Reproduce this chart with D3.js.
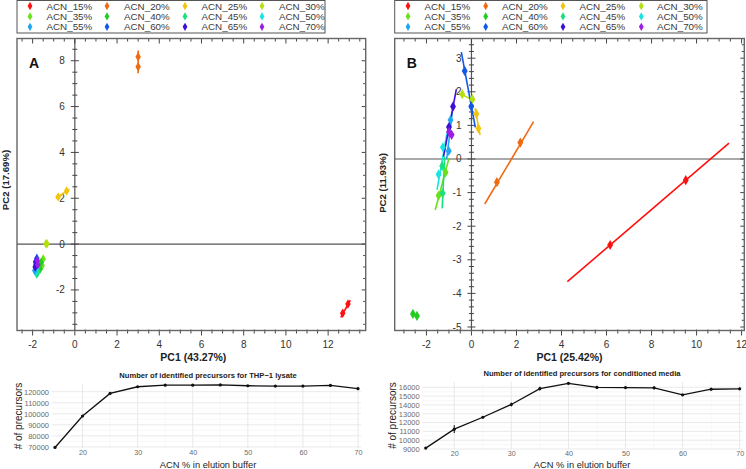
<!DOCTYPE html>
<html>
<head>
<meta charset="utf-8">
<script src="https://cdn.jsdelivr.net/npm/d3@7"></script>
<style>
  html, body { margin: 0; padding: 0; background: #fff; }
  svg { display: block; font-family: "Liberation Sans", Arial, sans-serif; }
</style>
</head>
<body>
<svg id="chart" width="746" height="469"></svg>
<script>
// ---- data ----
const groups = ["ACN_15%", "ACN_20%", "ACN_25%", "ACN_30%", "ACN_35%", "ACN_40%",
  "ACN_45%", "ACN_50%", "ACN_55%", "ACN_60%", "ACN_65%", "ACN_70%"];
const groupColors = ["#ff1010", "#f06a10", "#f2c40c", "#b4e010", "#6ae21a", "#22cc22",
  "#18e07e", "#18e4e0", "#22a6f2", "#1258e6", "#3c10d6", "#9a1ee6"];

// PCA A (THP-1 lysate): two replicate points per group + error line ends
const pcaAPoints = [
  [[12.69, -3.02], [12.94, -2.61]],
  [[3.0, 8.17], [3.0, 7.74]],
  [[-0.79, 2.06], [-0.39, 2.32]],
  [[-1.37, 0.01], [-1.32, 0.02]],
  [[-1.5, -0.65], [-1.55, -0.95]],
  [[-1.6, -0.8], [-1.65, -1.1]],
  [[-1.75, -1.2], [-1.8, -1.3]],
  [[-1.82, -1.05], [-1.86, -1.22]],
  [[-1.86, -0.9], [-1.9, -1.15]],
  [[-1.8, -0.62], [-1.85, -0.8]],
  [[-1.88, -1.0], [-1.85, -0.76]],
  [[-1.78, -0.72], [-1.76, -0.9]]
];
const pcaALines = [
  [[12.6, -3.2], [13.05, -2.45]],
  [[3.0, 8.45], [3.0, 7.45]],
  [[-0.9, 2.0], [-0.25, 2.4]],
  [[-1.42, 0.01], [-1.26, 0.02]],
  [[-1.45, -0.55], [-1.6, -1.05]],
  [[-1.55, -0.7], [-1.7, -1.2]],
  [[-1.72, -1.1], [-1.82, -1.38]],
  [[-1.78, -0.95], [-1.9, -1.3]],
  [[-1.82, -0.8], [-1.95, -1.22]],
  [[-1.78, -0.52], [-1.88, -0.88]],
  [[-1.82, -0.68], [-1.92, -1.08]],
  [[-1.73, -0.62], [-1.8, -0.98]]
];

// PCA B (conditioned media)
const pcaBPoints = [
  [[6.16, -2.56], [9.52, -0.63]],
  [[1.13, -0.69], [2.17, 0.49]],
  [[0.22, 1.34], [0.31, 0.91]],
  [[-0.41, 1.93], [0.04, 1.78]],
  [[-1.15, -0.4], [-1.46, -1.09]],
  [[-2.6, -4.61], [-2.42, -4.67]],
  [[-1.3, -0.21], [-1.28, -1.02]],
  [[-1.27, 0.35], [-1.46, -0.46]],
  [[-0.93, 1.16], [-1.01, 0.24]],
  [[-0.3, 2.62], [-0.01, 1.56]],
  [[-0.82, 1.56], [-1.0, 0.95]],
  [[-1.0, 0.8], [-0.88, 0.72]]
];
const pcaBLines = [
  [[4.26, -3.65], [11.44, 0.47]],
  [[0.59, -1.34], [2.76, 1.11]],
  [[0.16, 1.51], [0.38, 0.71]],
  [[-0.56, 1.96], [0.14, 1.73]],
  [[-1.0, 0.02], [-1.61, -1.52]],
  [[-2.65, -4.6], [-2.38, -4.68]],
  [[-1.19, 0.07], [-1.3, -1.47]],
  [[-1.09, 0.76], [-1.53, -0.92]],
  [[-0.85, 1.4], [-1.1, 0.0]],
  [[-0.45, 3.18], [0.17, 0.94]],
  [[-0.67, 2.08], [-1.24, 0.07]],
  [[-1.05, 0.9], [-0.84, 0.66]]
];

// precursor counts
const acnLevels = [15, 20, 25, 30, 35, 40, 45, 50, 55, 60, 65, 70];
const thpCounts = [69500, 98000, 118500, 124500, 125900, 125900, 126200, 125400, 125100, 125100, 125700, 122800];
const thpErrors = [600, 900, 700, 700, 500, 500, 500, 400, 400, 400, 600, 1100];
const mediaCounts = [9100, 11250, 12600, 14050, 15850, 16450, 15980, 15970, 15940, 15150, 15780, 15830];
const mediaErrors = [80, 450, 120, 220, 220, 80, 180, 130, 180, 80, 180, 120];
const thpTicks = [70000, 80000, 90000, 100000, 110000, 120000];
const mediaTicks = [9000, 10000, 11000, 12000, 13000, 14000, 15000, 16000];
const acnTicks = [20, 30, 40, 50, 60, 70];

const svg = d3.select("#chart");
const diamond = d3.symbol().type(d3.symbolDiamond);

function drawLegend(left, right, markerXs, textXs) {
  const g = svg.append("g");
  g.append("rect")
    .attr("x", left).attr("y", 0.5)
    .attr("width", right - left).attr("height", 32.5)
    .attr("fill", "#fff").attr("stroke", "#555").attr("stroke-width", 1);
  groups.forEach((name, i) => {
    const col = i % 4;
    const row = Math.floor(i / 4);
    const y = 6 + row * 10.4;
    g.append("path")
      .attr("d", diamond.size(20)())
      .attr("transform", `translate(${markerXs[col]},${y})`)
      .attr("fill", groupColors[i]);
    g.append("text")
      .attr("x", textXs[col]).attr("y", y + 3.5)
      .attr("font-size", 9.8).attr("fill", "#3a3a3a")
      .text(name);
  });
}

function drawPca(opts) {
  const x = d3.scaleLinear().domain(opts.xDomain).range([opts.left, opts.right]);
  const y = d3.scaleLinear().domain(opts.yDomain).range([opts.bottom, opts.top]);
  const g = svg.append("g");
  const x0 = x(0);
  const y0 = y(0);

  const xMinor = d3.range(Math.ceil(opts.xDomain[0] / opts.xMinorStep) * opts.xMinorStep, opts.xDomain[1], opts.xMinorStep);
  const yMinor = d3.range(Math.ceil(opts.yDomain[0] / opts.yMinorStep) * opts.yMinorStep, opts.yDomain[1], opts.yMinorStep);
  const isMajor = (v, step) => Math.abs(v / step - Math.round(v / step)) < 1e-6;

  // zero lines
  g.append("line").attr("x1", opts.left).attr("x2", opts.right)
    .attr("y1", y0).attr("y2", y0).attr("stroke", "#555").attr("stroke-width", 1.2);
  g.append("line").attr("x1", x0).attr("x2", x0)
    .attr("y1", opts.top).attr("y2", opts.bottom).attr("stroke", "#555").attr("stroke-width", 1.2);

  // ticks on vertical zero line and right frame
  yMinor.forEach(v => {
    const len = isMajor(v, opts.yMajorStep) ? 4 : 2.5;
    g.append("line").attr("x1", x0 - len).attr("x2", x0 + len)
      .attr("y1", y(v)).attr("y2", y(v)).attr("stroke", "#444").attr("stroke-width", 1);
    g.append("line").attr("x1", opts.right).attr("x2", opts.right - len)
      .attr("y1", y(v)).attr("y2", y(v)).attr("stroke", "#444").attr("stroke-width", 1);
  });
  yMinor.filter(v => isMajor(v, opts.yMajorStep)).forEach(v => {
    g.append("text").attr("x", x0 - 10).attr("y", y(v) + 3.5)
      .attr("text-anchor", "end").attr("font-size", 10).attr("fill", "#333")
      .text(Math.round(v));
  });

  // ticks on bottom and top frame
  xMinor.forEach(v => {
    const major = isMajor(v, opts.xMajorStep);
    const len = major ? 5 : 3;
    g.append("line").attr("x1", x(v)).attr("x2", x(v))
      .attr("y1", opts.bottom - 1).attr("y2", opts.bottom + len).attr("stroke", "#444").attr("stroke-width", 1);
    g.append("line").attr("x1", x(v)).attr("x2", x(v))
      .attr("y1", opts.top).attr("y2", opts.top + len).attr("stroke", "#444").attr("stroke-width", 1);
    if (major) {
      g.append("text").attr("x", x(v)).attr("y", opts.bottom + 17)
        .attr("text-anchor", "middle").attr("font-size", 10).attr("fill", "#333")
        .text(Math.round(v));
    }
  });

  // frame
  g.append("rect").attr("x", opts.left).attr("y", opts.top)
    .attr("width", opts.right - opts.left).attr("height", opts.bottom - opts.top)
    .attr("fill", "none").attr("stroke", "#666").attr("stroke-width", 1.4);

  // error lines and points
  const line = d3.line().x(d => x(d[0])).y(d => y(d[1]));
  opts.lines.forEach((seg, i) => {
    g.append("path").attr("d", line(seg)).attr("fill", "none")
      .attr("stroke", groupColors[i]).attr("stroke-width", 1.6);
  });
  opts.points.forEach((pts, i) => {
    g.selectAll(null).data(pts).join("path")
      .attr("d", diamond.size(opts.markerSize)())
      .attr("transform", d => `translate(${x(d[0])},${y(d[1])})`)
      .attr("fill", groupColors[i]);
  });

  // labels
  g.append("text").attr("x", opts.left + 12).attr("y", opts.top + 29)
    .attr("font-size", 14).attr("font-weight", "bold").attr("fill", "#111").text(opts.panel);
  g.append("text").attr("x", (opts.left + opts.right) / 2 + opts.xTitleShift).attr("y", opts.bottom + 30)
    .attr("text-anchor", "middle").attr("font-size", 10.5).attr("font-weight", "bold").attr("fill", "#222")
    .text(opts.xTitle);
  g.append("text")
    .attr("transform", `translate(${opts.left - 8.5},${opts.yTitleY}) rotate(-90)`)
    .attr("text-anchor", "middle").attr("font-size", 9.6).attr("font-weight", "bold").attr("fill", "#222")
    .text(opts.yTitle);
}

function drawCounts(opts) {
  const x = d3.scaleLinear().domain([15, 70]).range([opts.left, opts.right]);
  const y = d3.scaleLinear().domain(opts.yDomain).range([opts.bottom, opts.top]);
  const g = svg.append("g");
  const gl = opts.left - 3, gr = opts.right + 3;

  // grid: minor then major
  const yMinorVals = opts.yTicks.slice(0, -1).map((v, i) => (v + opts.yTicks[i + 1]) / 2);
  yMinorVals.forEach(v => g.append("line").attr("x1", gl).attr("x2", gr)
    .attr("y1", y(v)).attr("y2", y(v)).attr("stroke", "#f3f3f3").attr("stroke-width", 0.6));
  [25, 35, 45, 55, 65].forEach(v => g.append("line").attr("x1", x(v)).attr("x2", x(v))
    .attr("y1", opts.top).attr("y2", opts.bottom).attr("stroke", "#f3f3f3").attr("stroke-width", 0.6));
  opts.yTicks.forEach(v => g.append("line").attr("x1", gl).attr("x2", gr)
    .attr("y1", y(v)).attr("y2", y(v)).attr("stroke", "#e6e6e6").attr("stroke-width", 0.9));
  acnTicks.forEach(v => g.append("line").attr("x1", x(v)).attr("x2", x(v))
    .attr("y1", opts.top).attr("y2", opts.bottom).attr("stroke", "#e6e6e6").attr("stroke-width", 0.9));

  const yAxis = g.append("g").attr("transform", `translate(${opts.left - 4},0)`)
    .call(d3.axisLeft(y).tickValues(opts.yTicks).tickSize(0).tickPadding(2).tickFormat(d3.format("d")));
  yAxis.select(".domain").remove();
  yAxis.selectAll("text").attr("font-size", 7.5).attr("fill", "#6a6a6a").attr("font-family", null);

  const xAxis = g.append("g").attr("transform", `translate(0,${opts.bottom + 1})`)
    .call(d3.axisBottom(x).tickValues(acnTicks).tickSize(0).tickPadding(1).tickFormat(d3.format("d")));
  xAxis.select(".domain").remove();
  xAxis.selectAll("text").attr("font-size", 7.2).attr("fill", "#6a6a6a").attr("font-family", null);

  // error bars
  opts.counts.forEach((c, i) => {
    g.append("line").attr("x1", x(acnLevels[i])).attr("x2", x(acnLevels[i]))
      .attr("y1", y(c - opts.errors[i])).attr("y2", y(c + opts.errors[i]))
      .attr("stroke", "#111").attr("stroke-width", 1);
  });
  g.append("path").datum(opts.counts)
    .attr("d", d3.line().x((d, i) => x(acnLevels[i])).y(d => y(d)))
    .attr("fill", "none").attr("stroke", "#111").attr("stroke-width", 1.3);
  g.selectAll(null).data(opts.counts).join("circle")
    .attr("cx", (d, i) => x(acnLevels[i])).attr("cy", d => y(d)).attr("r", 1.6).attr("fill", "#111");

  g.append("text").attr("x", opts.titleX).attr("y", opts.top - 6)
    .attr("text-anchor", "middle").attr("font-size", 7.6).attr("font-weight", "bold").attr("fill", "#222")
    .text(opts.title);
  g.append("text").attr("x", opts.titleX).attr("y", 467.5)
    .attr("text-anchor", "middle").attr("font-size", 9.3).attr("fill", "#222")
    .text("ACN % in elution buffer");
  g.append("text")
    .attr("transform", `translate(${opts.yTitleX},${(opts.top + opts.bottom) / 2}) rotate(-90)`)
    .attr("text-anchor", "middle").attr("font-size", 10).attr("fill", "#222")
    .text("# of precursors");
}

drawLegend(17, 325, [30, 107, 185, 262], [46.5, 124, 201.5, 279]);
drawLegend(394.7, 707, [408, 485.7, 563, 641.3], [424.5, 502, 579.5, 657]);

drawPca({
  panel: "A", left: 17, right: 365.7, top: 38.5, bottom: 330.5,
  xDomain: [-2.74, 13.78], yDomain: [-3.77, 8.97],
  xMajorStep: 2, xMinorStep: 0.5, yMajorStep: 2, yMinorStep: 0.5,
  points: pcaAPoints, lines: pcaALines, markerSize: 26,
  xTitle: "PC1 (43.27%)", yTitle: "PC2 (17.69%)", xTitleShift: 2, yTitleY: 180
});
drawPca({
  panel: "B", left: 394.7, right: 744.3, top: 38.5, bottom: 330.5,
  xDomain: [-3.41, 12.12], yDomain: [-5.104, 3.586],
  xMajorStep: 2, xMinorStep: 0.5, yMajorStep: 1, yMinorStep: 0.2,
  points: pcaBPoints, lines: pcaBLines, markerSize: 30,
  xTitle: "PC1 (25.42%)", yTitle: "PC2 (11.93%)", xTitleShift: 0, yTitleY: 183
});

drawCounts({
  left: 55, right: 358, top: 384, bottom: 448,
  yDomain: [69000, 127000], yTicks: thpTicks,
  counts: thpCounts, errors: thpErrors,
  title: "Number of identified precursors for THP\u22121 lysate", titleX: 208, yTitleX: 22
});
drawCounts({
  left: 425.7, right: 739.7, top: 382, bottom: 449,
  yDomain: [9000, 16600], yTicks: mediaTicks,
  counts: mediaCounts, errors: mediaErrors,
  title: "Number of identified precursors for conditioned media", titleX: 582, yTitleX: 396
});
</script>
</body>
</html>
